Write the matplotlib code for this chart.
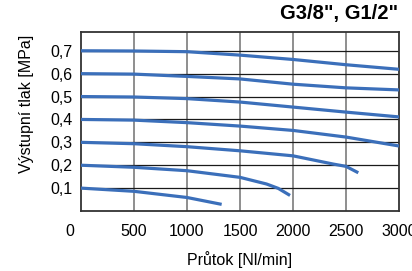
import numpy as np
import matplotlib.pyplot as plt
import matplotlib.transforms as mtransforms

# flow [Nl/min] and outlet pressure [MPa], one curve per set pressure
flow_07 = [0, 500, 1000, 1500, 2000, 2500, 3000]
p_07 = [0.700, 0.699, 0.696, 0.681, 0.662, 0.639, 0.619]
flow_06 = [0, 500, 1000, 1500, 2000, 2500, 3000]
p_06 = [0.600, 0.598, 0.588, 0.577, 0.554, 0.538, 0.529]
flow_05 = [0, 500, 1000, 1500, 2000, 2500, 3000]
p_05 = [0.500, 0.498, 0.491, 0.476, 0.454, 0.432, 0.411]
flow_04 = [0, 500, 1000, 1500, 2000, 2500, 3000]
p_04 = [0.400, 0.397, 0.386, 0.371, 0.352, 0.323, 0.284]
flow_03 = [0, 500, 1000, 1500, 2000, 2380, 2500, 2616]
p_03 = [0.300, 0.294, 0.281, 0.263, 0.241, 0.205, 0.195, 0.167]
flow_02 = [0, 500, 1000, 1500, 1750, 1860, 1972]
p_02 = [0.200, 0.191, 0.176, 0.147, 0.118, 0.099, 0.068]
flow_01 = [0, 500, 1000, 1327]
p_01 = [0.100, 0.086, 0.059, 0.029]

curves = [(flow_07, p_07), (flow_06, p_06), (flow_05, p_05), (flow_04, p_04),
          (flow_03, p_03), (flow_02, p_02), (flow_01, p_01)]

x_ticks = [0, 500, 1000, 1500, 2000, 2500, 3000]
y_ticks = [0.1, 0.2, 0.3, 0.4, 0.5, 0.6, 0.7]
y_labels = ["0,1", "0,2", "0,3", "0,4", "0,5", "0,6", "0,7"]

plt.rcParams['font.family'] = ['Liberation Sans', 'DejaVu Sans']

fig = plt.figure(figsize=(4.12, 2.71), dpi=100)
ax = fig.add_axes([81/412, 1 - 211/271, 318/412, 179/271])

for xs, ys in curves:
    ax.plot(xs, ys, color='#3b6fba', lw=2.3, solid_capstyle='butt', zorder=3)

ax.set_xlim(0, 3000)
ax.set_ylim(0, 0.782)
ax.set_xticks(x_ticks)
ax.set_xticklabels([str(v) for v in x_ticks], fontsize=11.5)
ax.set_yticks(y_ticks)
ax.set_yticklabels(y_labels, fontsize=11.5)
ax.tick_params(length=0, pad=6)
ax.tick_params(axis='x', pad=9)

# shift the "0" label left like in the original
lab0 = ax.get_xticklabels()[0]
lab0.set_transform(lab0.get_transform() + mtransforms.ScaledTranslation(-11/100, 0, fig.dpi_scale_trans))

for v in x_ticks[1:-1]:
    ax.axvline(v, color='#707070', lw=1.1, zorder=1)
for v in y_ticks:
    ax.axhline(v, color='#1a1a1a', lw=0.9, zorder=1)

for s in ax.spines.values():
    s.set_color('#333333')
    s.set_linewidth(1.3)

ax.set_xlabel('Průtok [Nl/min]', fontsize=11.5, va='center')
ax.xaxis.set_label_coords(0.5, (211 - 260) / 179)
ax.set_ylabel('Výstupní tlak [MPa]', fontsize=11.5, va='center')
ax.yaxis.set_label_coords((26 - 81) / 318, (211 - 104) / 179)
fig.text(398/412, 1 - 14/271, 'G3/8", G1/2"', ha='right', va='center',
         fontsize=14.5, fontweight='bold')

fig.savefig('out.png', dpi=100)
